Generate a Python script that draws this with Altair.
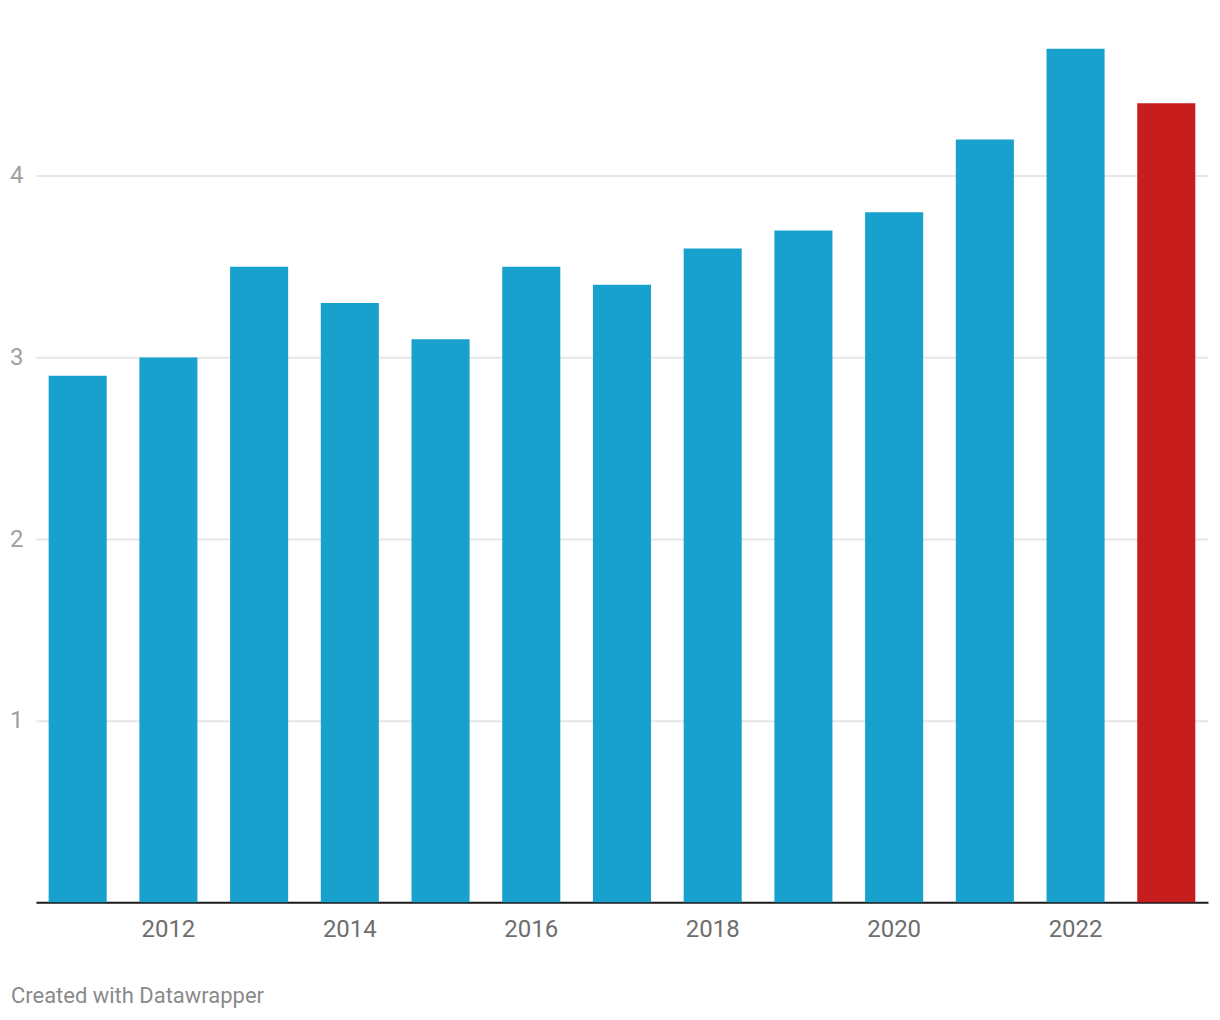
import altair as alt
import pandas as pd

years = [2011, 2012, 2013, 2014, 2015, 2016, 2017, 2018, 2019, 2020, 2021, 2022, 2023]
values = [2.9, 3.0, 3.5, 3.3, 3.1, 3.5, 3.4, 3.6, 3.7, 3.8, 4.2, 4.7, 4.4]
highlight = ["no"] * 12 + ["yes"]
x_tick_labels = [2012, 2014, 2016, 2018, 2020, 2022]
y_ticks = [1, 2, 3, 4]
credit = ["Created with Datawrapper"]

df = pd.DataFrame({"year": years, "value": values, "hl": highlight})

FONT = "Roboto"

bars = alt.Chart(df).mark_bar().encode(
    x=alt.X(
        "year:O",
        scale=alt.Scale(paddingInner=0.36, paddingOuter=0.14),
        axis=alt.Axis(
            values=x_tick_labels,
            title=None,
            labelAngle=0,
            ticks=False,
            domain=True,
            domainColor="#1a1a1a",
            domainWidth=2,
            grid=False,
            labelFont=FONT,
            labelFontSize=24,
            labelColor="#6e6e6e",
            labelPadding=15,
        ),
    ),
    y=alt.Y(
        "value:Q",
        scale=alt.Scale(domain=[0, 4.7], nice=False, zero=True),
        axis=alt.Axis(
            values=y_ticks,
            title=None,
            ticks=False,
            domain=False,
            grid=True,
            gridColor="#e6e6e6",
            gridWidth=2,
            labelFont=FONT,
            labelFontSize=24,
            labelColor="#a0a0a0",
            labelPadding=13,
            labelAlign="right",
            labelBaseline="middle",
        ),
    ),
    color=alt.Color(
        "hl:N",
        scale=alt.Scale(domain=["no", "yes"], range=["#18a1cd", "#c71e1d"]),
        legend=None,
    ),
)

credit_df = pd.DataFrame({"t": credit})
credit_text = alt.Chart(credit_df).mark_text(
    align="left", baseline="middle", font=FONT, fontSize=22, color="#8a8a8a"
).encode(text="t:N", x=alt.value(-25), y=alt.value(949))

chart = (
    alt.layer(bars, credit_text)
    .properties(
        width=1174,
        height=855,
        padding={"left": 28, "top": 40, "right": 4, "bottom": 110},
        autosize=alt.AutoSizeParams(type="none"),
        background="white",
    )
    .configure_view(stroke=None, strokeWidth=0)
)

chart.save("out.html", embed_options={"renderer": "svg", "actions": False})
